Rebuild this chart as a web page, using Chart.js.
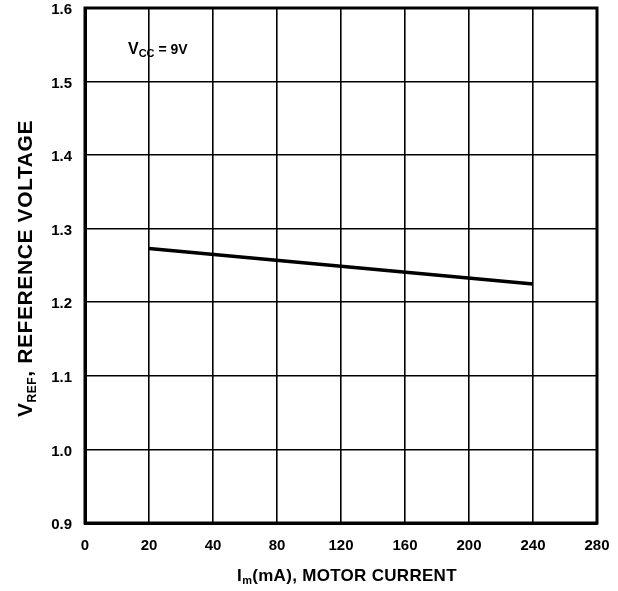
<!DOCTYPE html>
<html><head><meta charset="utf-8">
<script src="https://cdn.jsdelivr.net/npm/chart.js@4"></script>
<style>html,body{margin:0;padding:0;background:#fff}#wrap{width:618px;height:591px;position:relative}</style>
</head><body><div id="wrap"><canvas id="c"></canvas></div>
<script>
// X axis tick labels (non-uniform current scale, evenly spaced divisions)
const xTickLabels = ['0','20','40','80','120','160','200','240','280'];
// Series: motor current (mA) vs reference voltage (V)
const currentMA = ['20','240'];
const vrefValues = [1.273, 1.225];
// Y axis range
const yMin = 0.9, yMax = 1.6, yStep = 0.1;

const FONT = '"Liberation Sans", Arial, Helvetica, sans-serif';

function drawRich(ctx, parts, x, y, align, spacing) {
  ctx.letterSpacing = (spacing || 0) + 'px';
  let total = 0;
  parts.forEach(p => { ctx.font = 'bold ' + p.size + 'px ' + FONT; p.w = ctx.measureText(p.text).width; total += p.w; });
  let cx = align === 'center' ? x - total / 2 : x;
  ctx.textAlign = 'left';
  ctx.textBaseline = 'alphabetic';
  parts.forEach(p => { ctx.font = 'bold ' + p.size + 'px ' + FONT; ctx.fillText(p.text, cx, y + (p.dy || 0)); cx += p.w; });
  ctx.letterSpacing = '0px';
}

const titlesPlugin = {
  id: 'titles',
  afterDraw(chart) {
    const ctx = chart.ctx, a = chart.chartArea;
    ctx.save();
    ctx.fillStyle = '#000';
    // Y axis title (rotated)
    ctx.save();
    ctx.translate(32, (a.top + a.bottom) / 2 + 3);
    ctx.rotate(-Math.PI / 2);
    drawRich(ctx, [
      {text: 'V', size: 21},
      {text: 'REF', size: 12, dy: 4},
      {text: ', REFERENCE VOLTAGE', size: 21}
    ], 0, 0, 'center', 0.6);
    ctx.restore();
    // X axis title
    drawRich(ctx, [
      {text: 'I', size: 17},
      {text: 'm', size: 11, dy: 3},
      {text: '(mA), MOTOR CURRENT', size: 17}
    ], (a.left + a.right) / 2 + 6, 581, 'center', 0.3);
    // Annotation
    drawRich(ctx, [
      {text: 'V', size: 16},
      {text: 'CC', size: 11, dy: 3},
      {text: ' = 9V', size: 14}
    ], 128, 54, 'left', 0);
    ctx.restore();
  }
};

new Chart(document.getElementById('c'), {
  type: 'line',
  data: {
    labels: xTickLabels,
    datasets: [{
      data: currentMA.map((c, i) => ({x: c, y: vrefValues[i]})),
      borderColor: '#000',
      borderWidth: 3.5,
      pointRadius: 0,
      tension: 0,
      fill: false
    }]
  },
  options: {
    responsive: true,
    maintainAspectRatio: false,
    devicePixelRatio: 1,
    animation: false,
    events: [],
    layout: {padding: {left: 0, top: 8, right: 21, bottom: 0}},
    plugins: {legend: {display: false}, tooltip: {enabled: false}, title: {display: false}},
    scales: {
      x: {
        type: 'category',
        offset: false,
        afterFit(s) { s.height = 68; s.paddingLeft = 0; s.paddingRight = 0; },
        grid: {color: '#000', lineWidth: 1.6, drawTicks: false, offset: false},
        border: {color: '#000', width: 3},
        ticks: {color: '#000', font: {family: FONT, size: 15, weight: 'bold'}, padding: 14, maxRotation: 0, autoSkip: false}
      },
      y: {
        min: yMin, max: yMax,
        afterFit(s) { s.width = 85; s.paddingTop = 0; s.paddingBottom = 0; },
        grid: {color: '#000', lineWidth: 1.6, drawTicks: false},
        border: {color: '#000', width: 3},
        ticks: {stepSize: yStep, color: '#000', font: {family: FONT, size: 15, weight: 'bold'}, padding: 13, labelOffset: 2,
          callback: v => v.toFixed(1)}
      }
    }
  },
  plugins: [titlesPlugin, {
    id: 'frame',
    afterDraw(chart) {
      const ctx = chart.ctx, a = chart.chartArea;
      ctx.save(); ctx.strokeStyle = '#000'; ctx.lineWidth = 3;
      ctx.strokeRect(a.left, a.top, a.right - a.left, a.bottom - a.top);
      ctx.restore();
    }
  }]
});
</script>
</body></html>
